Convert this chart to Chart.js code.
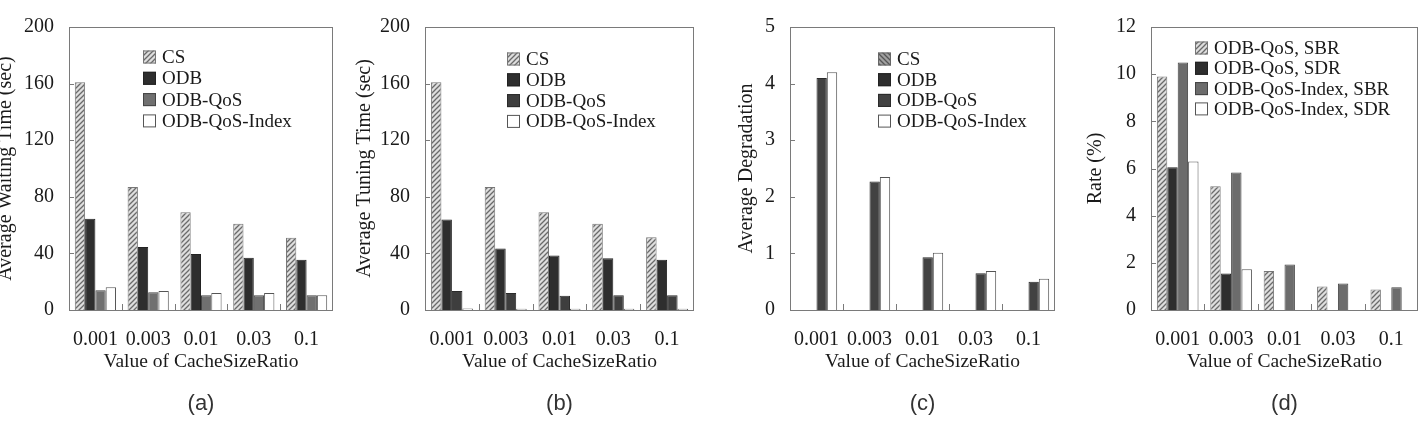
<!DOCTYPE html>
<html>
<head>
<meta charset="utf-8">
<script src="https://cdn.jsdelivr.net/npm/chart.js@4.4.1/dist/chart.umd.min.js"></script>
<style>
  html, body { margin: 0; padding: 0; background: #fff; overflow: hidden; }
  body { width: 1422px; height: 431px; position: relative; }
  .panel { position: absolute; top: 0; height: 431px; }
</style>
</head>
<body>
<div class="panel" style="left:-6px"><canvas id="chartA" width="351" height="431"></canvas></div>
<div class="panel" style="left:350px"><canvas id="chartB" width="355" height="431"></canvas></div>
<div class="panel" style="left:730px"><canvas id="chartC" width="335" height="431"></canvas></div>
<div class="panel" style="left:1075px"><canvas id="chartD" width="347" height="431"></canvas></div>
<script>
// ---- data ----
const categories = ['0.001', '0.003', '0.01', '0.03', '0.1'];

// (a) average waiting time (sec)
const waitCS = [161, 87, 69, 61, 51];
const waitODB = [64.5, 44.5, 39.5, 37, 35.5];
const waitQoS = [14, 12.5, 10.5, 10.5, 10.5];
const waitIndex = [16, 13.5, 12, 12, 10.5];

// (b) average tuning time (sec)
const tuneCS = [161, 87, 69, 61, 51.5];
const tuneODB = [64, 43.5, 38.5, 36.5, 35.5];
const tuneQoS = [13.5, 12, 10, 10.5, 10.5];
const tuneIndex = [1, 0.8, 0.8, 0.8, 0.8];

// (c) average degradation
const degCS = [0, 0, 0, 0, 0];
const degODB = [0, 0, 0, 0, 0];
const degQoS = [4.1, 2.27, 0.93, 0.65, 0.5];
const degIndex = [4.2, 2.35, 1.01, 0.69, 0.55];

// (d) rate (%)
const rateQoSSBR = [9.9, 5.25, 1.65, 1.0, 0.87];
const rateQoSSDR = [6.05, 1.55, 0, 0, 0];
const rateIdxSBR = [10.5, 5.83, 1.93, 1.12, 0.96];
const rateIdxSDR = [6.3, 1.73, 0, 0, 0];

const SERIF = "'Liberation Serif', 'Times New Roman', serif";
const TXT = '#1a1a1a';

// diagonal hatch pattern
function hatch(bg, fg, dir) {
    const c = document.createElement('canvas');
    c.width = c.height = 5;
    const g = c.getContext('2d');
    g.fillStyle = bg;
    g.fillRect(0, 0, 5, 5);
    g.strokeStyle = fg;
    g.lineWidth = 1.3;
    g.beginPath();
    if (dir > 0) {
        g.moveTo(-1, 6); g.lineTo(6, -1);
        g.moveTo(-1, 1); g.lineTo(1, -1);
        g.moveTo(4, 6); g.lineTo(6, 4);
    } else {
        g.moveTo(-1, -1); g.lineTo(6, 6);
        g.moveTo(4, -1); g.lineTo(6, 1);
        g.moveTo(-1, 4); g.lineTo(1, 6);
    }
    g.stroke();
    return g.createPattern(c, 'repeat');
}

const hatchLight = hatch('#dedede', '#6a6a6a', 1);
const hatchDark = hatch('#a0a0a0', '#555', -1);

// frame, inner ticks, legend inside plot, caption under the panel
const decor = {
    id: 'decor',
    afterDatasetsDraw(chart, args, opts) {
        const { ctx, chartArea: a, scales } = chart;
        ctx.save();
        ctx.strokeStyle = '#7a7a7a';
        ctx.lineWidth = 1;
        ctx.strokeRect(a.left + 0.5, a.top + 0.5, a.right - a.left - 1, a.bottom - a.top);

        // y ticks, inward
        ctx.beginPath();
        scales.y.ticks.forEach(t => {
            const y = Math.round(scales.y.getPixelForValue(t.value)) + 0.5;
            ctx.moveTo(a.left, y);
            ctx.lineTo(a.left + 5, y);
        });
        // x ticks between categories, inward
        for (let i = 1; i < categories.length; i++) {
            const x = Math.round((scales.x.getPixelForValue(i - 1) + scales.x.getPixelForValue(i)) / 2) + 0.5;
            ctx.moveTo(x, a.bottom);
            ctx.lineTo(x, a.bottom - 6);
        }
        ctx.stroke();

        // legend
        ctx.font = `19px ${SERIF}`;
        ctx.textBaseline = 'middle';
        ctx.textAlign = 'left';
        chart.data.datasets.forEach((ds, i) => {
            const bx = a.left + opts.legendX;
            const cy = a.top + opts.legendY + i * opts.legendRow;
            ctx.fillStyle = ds.legendFill || ds.backgroundColor;
            ctx.fillRect(bx, cy - 6.5, 13, 13);
            ctx.strokeStyle = ds.borderColor;
            ctx.strokeRect(bx + 0.5, cy - 6, 12, 12);
            ctx.fillStyle = TXT;
            ctx.fillText(ds.label, bx + 19, cy + 1);
        });

        // caption (a), (b) ...
        ctx.font = "22px 'Liberation Sans', Arial, sans-serif";
        ctx.textAlign = 'center';
        ctx.fillStyle = '#333';
        ctx.fillText(opts.caption, (a.left + a.right) / 2, 404);
        ctx.restore();
    }
};

function makePanel(id, cfg) {
    const ctx = document.getElementById(id).getContext('2d');
    return new Chart(ctx, {
        type: 'bar',
        data: {
            labels: categories,
            datasets: cfg.series.map(s => ({
                label: s.label,
                data: s.data,
                backgroundColor: s.fill,
                legendFill: s.legendFill,
                borderColor: s.border,
                borderWidth: 1,
                categoryPercentage: 0.78,
                barPercentage: 1.0
            }))
        },
        options: {
            responsive: false,
            animation: false,
            layout: { padding: { top: 18, right: cfg.padRight, left: 0, bottom: 0 } },
            plugins: {
                legend: { display: false },
                tooltip: { enabled: false },
                decor: { legendX: cfg.legendX, legendY: cfg.legendY, legendRow: cfg.legendRow, caption: cfg.caption }
            },
            scales: {
                x: {
                    grid: { display: false, drawTicks: false },
                    border: { display: false },
                    ticks: { color: TXT, font: { family: SERIF, size: 20 }, padding: 18, maxRotation: 0 },
                    title: {
                        display: true,
                        text: 'Value of CacheSizeRatio',
                        color: TXT,
                        font: { family: SERIF, size: 19.5 },
                        padding: { top: 0, bottom: 57 }
                    },
                    afterFit: s => { s.height = 121; }
                },
                y: {
                    min: 0,
                    max: cfg.yMax,
                    grid: { display: false, drawTicks: false },
                    border: { display: false },
                    ticks: { stepSize: cfg.yStep, color: TXT, font: { family: SERIF, size: 20 }, padding: 15 },
                    title: {
                        display: true,
                        text: cfg.yTitle,
                        color: TXT,
                        font: { family: SERIF, size: 20 },
                        padding: { top: cfg.titlePad, bottom: 0 }
                    },
                    afterFit: s => { s.width = cfg.yWidth; }
                }
            }
        },
        plugins: [decor]
    });
}

makePanel('chartA', {
    caption: '(a)', yTitle: 'Average Waiting Time (sec)', yMax: 200, yStep: 40,
    yWidth: 75, titlePad: 0, padRight: 12,
    legendX: 74, legendY: 30, legendRow: 21.3,
    series: [
        { label: 'CS', data: waitCS, fill: hatchLight, border: '#777' },
        { label: 'ODB', data: waitODB, fill: '#2e2e2e', border: '#222' },
        { label: 'ODB-QoS', data: waitQoS, fill: '#707070', border: '#444' },
        { label: 'ODB-QoS-Index', data: waitIndex, fill: '#ffffff', border: '#555' }
    ]
});

makePanel('chartB', {
    caption: '(b)', yTitle: 'Average Tuning Time (sec)', yMax: 200, yStep: 40,
    yWidth: 75, titlePad: 3, padRight: 11,
    legendX: 82, legendY: 32, legendRow: 20.8,
    series: [
        { label: 'CS', data: tuneCS, fill: hatchLight, border: '#777' },
        { label: 'ODB', data: tuneODB, fill: '#2e2e2e', border: '#222' },
        { label: 'ODB-QoS', data: tuneQoS, fill: '#3e3e3e', border: '#2a2a2a' },
        { label: 'ODB-QoS-Index', data: tuneIndex, fill: '#ffffff', border: '#555' }
    ]
});

makePanel('chartC', {
    caption: '(c)', yTitle: 'Average Degradation', yMax: 5, yStep: 1,
    yWidth: 60, titlePad: 5, padRight: 10,
    legendX: 88, legendY: 32, legendRow: 20.7,
    series: [
        { label: 'CS', data: degCS, fill: hatchDark, border: '#666' },
        { label: 'ODB', data: degODB, fill: '#2e2e2e', border: '#222' },
        { label: 'ODB-QoS', data: degQoS, fill: '#424242', border: '#2a2a2a' },
        { label: 'ODB-QoS-Index', data: degIndex, fill: '#ffffff', border: '#555' }
    ]
});

makePanel('chartD', {
    caption: '(d)', yTitle: 'Rate (%)', yMax: 12, yStep: 2,
    yWidth: 76, titlePad: 9, padRight: 2,
    legendX: 44, legendY: 21, legendRow: 20.3,
    series: [
        { label: 'ODB-QoS, SBR', data: rateQoSSBR, fill: hatchLight, border: '#777' },
        { label: 'ODB-QoS, SDR', data: rateQoSSDR, fill: '#2e2e2e', border: '#222' },
        { label: 'ODB-QoS-Index, SBR', data: rateIdxSBR, fill: '#6c6c6c', border: '#444' },
        { label: 'ODB-QoS-Index, SDR', data: rateIdxSDR, fill: '#ffffff', border: '#555' }
    ]
});
</script>
</body>
</html>
